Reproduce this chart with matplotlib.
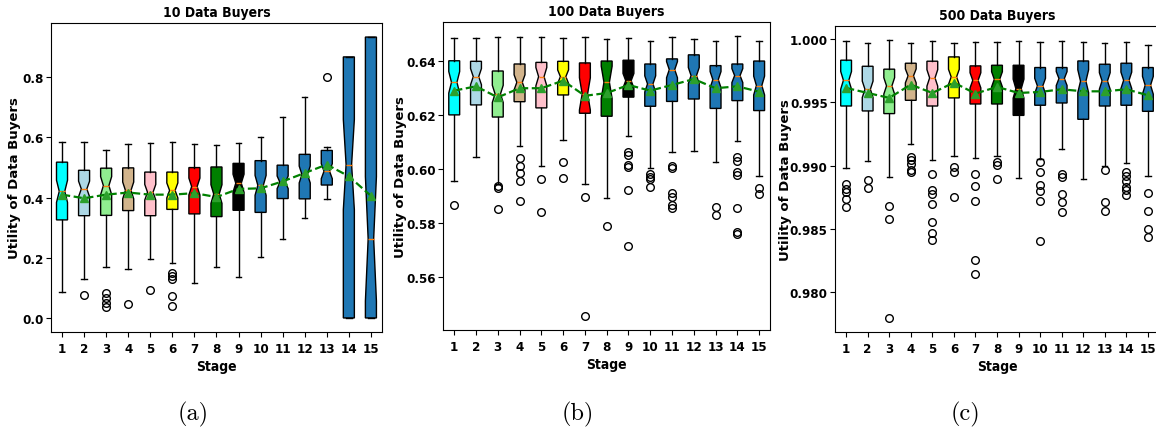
import matplotlib
matplotlib.use('Agg')
import matplotlib.pyplot as plt

# etapas y colores de las cajas
stages = list(range(1, 16))
box_colors = ['cyan', 'lightblue', 'lightgreen', 'tan', 'pink', 'yellow', 'red', 'green', 'black',
              '#1f77b4', '#1f77b4', '#1f77b4', '#1f77b4', '#1f77b4', '#1f77b4']

# ---- 10 compradores
a_whislo = [0.085, 0.129, 0.168, 0.162, 0.196, 0.182, 0.115, 0.171, 0.135, 0.203, 0.262, 0.331, 0.395, 0.0, 0.0]
a_q1 = [0.326, 0.340, 0.341, 0.357, 0.340, 0.361, 0.346, 0.337, 0.358, 0.351, 0.397, 0.396, 0.442, 0.0, 0.0]
a_med = [0.421, 0.429, 0.440, 0.424, 0.418, 0.424, 0.437, 0.412, 0.448, 0.441, 0.451, 0.477, 0.488, 0.510, 0.263]
a_q3 = [0.518, 0.491, 0.498, 0.499, 0.485, 0.485, 0.500, 0.502, 0.514, 0.523, 0.508, 0.544, 0.557, 0.868, 0.934]
a_whishi = [0.585, 0.586, 0.558, 0.580, 0.583, 0.585, 0.577, 0.575, 0.581, 0.602, 0.668, 0.734, 0.570, 0.868, 0.934]
a_mean = [0.410, 0.398, 0.410, 0.417, 0.410, 0.410, 0.415, 0.402, 0.429, 0.431, 0.454, 0.482, 0.510, 0.471, 0.406]
a_notch = [0.037, 0.026, 0.030, 0.028, 0.026, 0.025, 0.028, 0.031, 0.030, 0.033, 0.021, 0.028, 0.025, 0.150, 0.207]
a_fliers = [[], [0.075], [0.083, 0.065, 0.049, 0.037], [0.045], [0.093],
            [0.149, 0.140, 0.128, 0.074, 0.040], [], [], [], [], [], [], [0.800], [], []]

# ---- 100 compradores
b_whislo = [0.5957, 0.6046, 0.5944, 0.6087, 0.6010, 0.6108, 0.5943, 0.5893, 0.6124, 0.6002, 0.6062, 0.6068, 0.6025, 0.6105, 0.5975]
b_q1 = [0.6201, 0.6238, 0.6193, 0.6250, 0.6227, 0.6275, 0.6207, 0.6196, 0.6267, 0.6233, 0.6251, 0.6260, 0.6225, 0.6254, 0.6217]
b_med = [0.6322, 0.6343, 0.6279, 0.6322, 0.6343, 0.6343, 0.6279, 0.6322, 0.6328, 0.6316, 0.6369, 0.6347, 0.6332, 0.6347, 0.6310]
b_q3 = [0.6402, 0.6400, 0.6364, 0.6390, 0.6396, 0.6400, 0.6394, 0.6401, 0.6404, 0.6390, 0.6409, 0.6424, 0.6384, 0.6390, 0.6401]
b_whishi = [0.6485, 0.6485, 0.6489, 0.6489, 0.6489, 0.6487, 0.6489, 0.6483, 0.6487, 0.6477, 0.6489, 0.6483, 0.6476, 0.6495, 0.6476]
b_mean = [0.6291, 0.6307, 0.6266, 0.6300, 0.6300, 0.6328, 0.6272, 0.6282, 0.6312, 0.6291, 0.6312, 0.6334, 0.6300, 0.6307, 0.6287]
b_notch = [0.0040, 0.0030, 0.0032, 0.0028, 0.0034, 0.0025, 0.0060, 0.0060, 0.0027, 0.0030, 0.0030, 0.0030, 0.0030, 0.0026, 0.0035]
b_fliers = [[0.5868], [], [0.5938, 0.5931, 0.5851], [0.6040, 0.6012, 0.5985, 0.5955, 0.5880], [0.5963, 0.5839],
            [0.6025, 0.5968], [0.5896, 0.5454], [0.5788], [0.6062, 0.6053, 0.6016, 0.6006, 0.5923, 0.5714],
            [0.5981, 0.5972, 0.5963, 0.5932], [0.6012, 0.6002, 0.5911, 0.5895, 0.5868, 0.5855], [],
            [0.5858, 0.5830], [0.6043, 0.6031, 0.5988, 0.5978, 0.5855, 0.5765, 0.5757], [0.5928, 0.5907]]

# ---- 500 compradores
c_whislo = [0.98982, 0.99034, 0.98910, 0.99172, 0.99042, 0.99074, 0.99063, 0.99074, 0.98905, 0.99055, 0.99135, 0.98897, 0.98995, 0.99024, 0.98916]
c_q1 = [0.99472, 0.99433, 0.99412, 0.99517, 0.99472, 0.99536, 0.99488, 0.99488, 0.99398, 0.99478, 0.99496, 0.99367, 0.99472, 0.99478, 0.99430]
c_med = [0.99675, 0.99604, 0.99631, 0.99710, 0.99694, 0.99702, 0.99675, 0.99683, 0.99609, 0.99631, 0.99689, 0.99668, 0.99670, 0.99675, 0.99636]
c_q3 = [0.99834, 0.99786, 0.99763, 0.99810, 0.99826, 0.99860, 0.99789, 0.99794, 0.99794, 0.99776, 0.99776, 0.99828, 0.99802, 0.99810, 0.99776]
c_whishi = [0.99987, 0.99971, 0.99992, 0.99971, 0.99984, 0.99971, 0.99976, 0.99976, 0.99987, 0.99976, 0.99984, 0.99976, 0.99971, 0.99976, 0.99953]
c_mean = [0.99615, 0.99575, 0.99536, 0.99641, 0.99575, 0.99657, 0.99570, 0.99623, 0.99575, 0.99583, 0.99604, 0.99588, 0.99588, 0.99604, 0.99557]
c_notch = [0.00070, 0.00065, 0.00065, 0.00055, 0.00065, 0.00060, 0.00060, 0.00060, 0.00075, 0.00060, 0.00055, 0.00090, 0.00065, 0.00065, 0.00070]
c_fliers = [[0.98858, 0.98818, 0.98792, 0.98739, 0.98673], [0.98889, 0.98823], [0.98678, 0.98580, 0.97794],
            [0.99069, 0.99047, 0.99016, 0.98963, 0.98950],
            [0.98931, 0.98805, 0.98778, 0.98699, 0.98559, 0.98467, 0.98417], [0.98990, 0.98950, 0.98752],
            [0.98937, 0.98839, 0.98718, 0.98256, 0.98145], [0.99029, 0.99003, 0.98897], [],
            [0.99029, 0.98950, 0.98850, 0.98797, 0.98718, 0.98409],
            [0.98937, 0.98910, 0.98773, 0.98712, 0.98633], [], [0.98966, 0.98712, 0.98639],
            [0.98950, 0.98918, 0.98876, 0.98831, 0.98805, 0.98765], [0.98784, 0.98641, 0.98501, 0.98435]]

titles = ['10 Data Buyers', '100 Data Buyers', '500 Data Buyers']
sublabels = ['(a)', '(b)', '(c)']
yticks_list = [[0.0, 0.2, 0.4, 0.6, 0.8],
               [0.56, 0.58, 0.60, 0.62, 0.64],
               [0.980, 0.985, 0.990, 0.995, 1.000]]
ytick_fmt = ['%.1f', '%.2f', '%.3f']

fuente = dict(family='DejaVu Sans', weight='bold', stretch='condensed')

fig = plt.figure(figsize=(11.56, 4.31), dpi=100)
posiciones = [[0.0441, 0.2274, 0.2863, 0.7169],
              [0.3835, 0.2320, 0.2826, 0.7153],
              [0.7226, 0.2267, 0.2797, 0.7100]]
ylabel_x = [-0.09, -0.112, -0.135]
sub_x = [0.167, 0.500, 0.835]
paneles = [(a_whislo, a_q1, a_med, a_q3, a_whishi, a_mean, a_notch, a_fliers),
           (b_whislo, b_q1, b_med, b_q3, b_whishi, b_mean, b_notch, b_fliers),
           (c_whislo, c_q1, c_med, c_q3, c_whishi, c_mean, c_notch, c_fliers)]

for k, (wlo, q1, med, q3, whi, mean, notch, fl) in enumerate(paneles):
    ax = fig.add_axes(posiciones[k])
    stats = []
    for i in range(15):
        stats.append(dict(med=med[i], q1=q1[i], q3=q3[i], whislo=wlo[i], whishi=whi[i],
                          mean=mean[i], cilo=med[i] - notch[i], cihi=med[i] + notch[i],
                          fliers=fl[i]))
    bp = ax.bxp(stats, shownotches=True, showmeans=True, patch_artist=True,
                flierprops=dict(marker='o', markersize=5.5, markerfacecolor='none'),
                meanprops=dict(zorder=4))
    for patch, col in zip(bp['boxes'], box_colors):
        patch.set_facecolor(col)
    ax.plot(stages, mean, 'g--', lw=1.6, zorder=3)

    ax.set_title(titles[k], fontsize=10, pad=5, **fuente)
    ax.set_xlabel('Stage', fontsize=10, labelpad=3, **fuente)
    ax.set_ylabel('Utility of Data Buyers', fontsize=9.5, family='DejaVu Sans', weight='bold')
    ax.yaxis.set_label_coords(ylabel_x[k], 0.5)
    ax.set_xticks(stages)
    ax.set_xticklabels([str(s) for s in stages])
    ax.set_yticks(yticks_list[k])
    ax.set_yticklabels([ytick_fmt[k] % v for v in yticks_list[k]])
    ax.tick_params(axis='y', pad=2)
    for t in ax.get_xticklabels() + ax.get_yticklabels():
        t.set_fontsize(9.5)
        t.set_fontweight('bold')
        t.set_fontstretch('condensed')
    ax.set_xlim(0.5, 15.5)

    fig.text(sub_x[k], 0.038, sublabels[k], ha='center', va='center',
             family='cmr10', fontsize=17.5)

fig.savefig('out.png', dpi=100)
